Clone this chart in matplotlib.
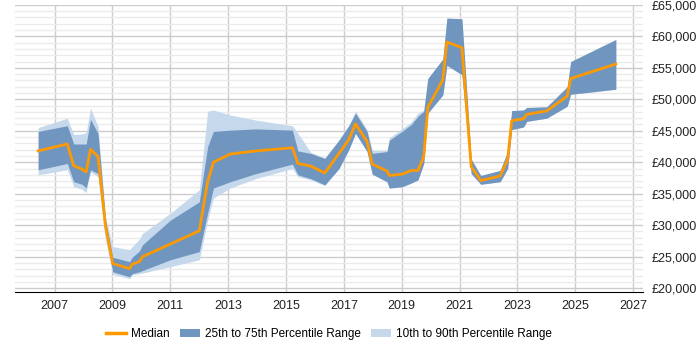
import matplotlib.pyplot as plt
from matplotlib.ticker import FuncFormatter, MultipleLocator
from matplotlib.patches import Patch
from matplotlib.lines import Line2D

plt.rcParams['font.family'] = ['Liberation Sans', 'DejaVu Sans']

# 시점 (소수 연도)
years = [2006.43, 2007.44, 2007.66, 2007.95, 2008.09, 2008.24, 2008.5, 2008.76,
         2009.01, 2009.59, 2009.68, 2009.93, 2010.04, 2011.0, 2012.0, 2012.29,
         2012.49, 2013.07, 2013.96, 2015.22, 2015.41, 2015.85, 2016.34, 2016.83,
         2017.17, 2017.4, 2017.8, 2017.98, 2018.49, 2018.57, 2019.01, 2019.33,
         2019.56, 2019.76, 2019.9, 2020.42, 2020.56, 2021.08, 2021.4, 2021.73,
         2022.4, 2022.66, 2022.8, 2023.21, 2023.32, 2024.01, 2024.72, 2024.84,
         2026.4]

median = [41800, 42900, 39450, 38900, 38450, 42050, 40900, 29750,
          23900, 23100, 23800, 24200, 25000, 27000, 29100, 36900,
          40000, 41300, 41800, 42300, 39800, 39400, 38300, 41400,
          43600, 46100, 43300, 39700, 38600, 37900, 38100, 38700,
          38700, 40900, 48700, 53100, 59100, 58200, 39300, 37100,
          37800, 40400, 46600, 46900, 47600, 48150, 50500, 53300,
          55600]

p75 = [44900, 45800, 42900, 42900, 42900, 46800, 44600, 30800,
       24900, 24200, 24900, 25900, 26900, 30800, 33700, 42500,
       44900, 45100, 45300, 45100, 41800, 41400, 40600, 43500,
       45800, 47800, 44900, 41400, 41700, 43500, 44900, 46000,
       47300, 48100, 53300, 56400, 62900, 62800, 40500, 37900,
       38700, 41700, 48200, 48300, 48700, 48800, 52000, 56000,
       59500]

p25 = [38800, 39800, 36900, 36500, 35900, 38800, 38200, 28700,
       22600, 21800, 22300, 22600, 22800, 24500, 25800, 31900,
       35900, 36900, 38200, 39700, 38000, 37400, 36400, 39000,
       42000, 44600, 41700, 38100, 36900, 35900, 36100, 36700,
       37200, 39800, 47800, 50700, 55400, 53900, 38200, 36500,
       36900, 39000, 45200, 45600, 46500, 47000, 48900, 50800,
       51600]

p90 = [45500, 47000, 44400, 44500, 44700, 48600, 45700, 31300,
       26600, 26100, 26600, 27800, 28700, 31900, 35600, 48100,
       48300, 47500, 46700, 45800, 44600, 41600, 40700, 43600,
       45900, 48100, 45200, 41900, 41900, 43900, 45300, 46400,
       47800, 48300, 53300, 56400, 62900, 62800, 40500, 37900,
       38700, 41700, 48200, 48300, 48700, 48800, 52000, 56000,
       59500]

p10 = [38000, 38800, 36100, 35700, 35200, 38500, 37700, 27600,
       22200, 21500, 22100, 22300, 22400, 23400, 24500, 30800,
       34300, 35900, 37400, 39000, 37700, 37200, 36300, 39000,
       42000, 44600, 41700, 38100, 36900, 35900, 36100, 36700,
       37200, 39800, 47800, 50700, 55400, 53900, 38200, 36500,
       36900, 39000, 45200, 45600, 46500, 47000, 48900, 50800,
       51600]

tick_years = list(range(2007, 2028, 2))

fig = plt.figure(figsize=(7, 3.5), dpi=100)
ax = fig.add_axes([0.021, 0.166, 0.898, 0.820])

ax.fill_between(years, p10, p90, color='#c6d9ec', linewidth=0, zorder=2)
ax.fill_between(years, p25, p75, color='#7096c0', linewidth=0, zorder=3)
ax.plot(years, median, color='#ff9900', linewidth=2, zorder=4)

ax.set_xlim(2005.62, 2027.35)
ax.set_ylim(19400, 65000)
ax.set_xticks(tick_years)
ax.yaxis.set_major_locator(MultipleLocator(5000))
ax.yaxis.set_minor_locator(MultipleLocator(1000))
ax.yaxis.set_major_formatter(FuncFormatter(lambda v, p: f'£{int(v):,}'))
ax.yaxis.tick_right()

ax.grid(axis='x', color='#cccccc', linewidth=1, zorder=0)
ax.grid(axis='y', which='major', color='#cccccc', linewidth=1, zorder=0)
ax.grid(axis='y', which='minor', color='#ebebeb', linewidth=1, zorder=0)
ax.set_axisbelow(True)

for s in ['top', 'left', 'right']:
    ax.spines[s].set_visible(False)
ax.spines['bottom'].set_color('black')
ax.tick_params(axis='both', which='both', length=0, labelsize=9, colors='#222222')
ax.tick_params(axis='y', pad=6)
ax.tick_params(axis='x', pad=6)

handles = [Line2D([0], [0], color='#ff9900', linewidth=2.5),
           Patch(facecolor='#7096c0', edgecolor='none'),
           Patch(facecolor='#c6d9ec', edgecolor='none')]
labels = ['Median', '25th to 75th Percentile Range', '10th to 90th Percentile Range']
fig.legend(handles, labels, loc='center', bbox_to_anchor=(0.47, 0.045), ncol=3,
           frameon=False, fontsize=8.5, handlelength=1.7, columnspacing=0.85,
           handletextpad=0.45)

fig.savefig('out.png', dpi=100)
